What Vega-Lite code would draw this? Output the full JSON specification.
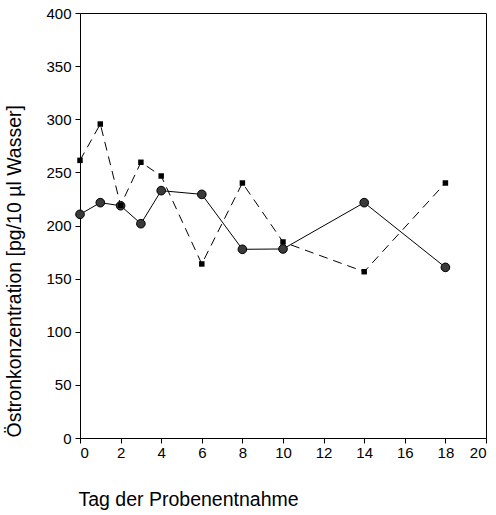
{
  "$schema": "https://vega.github.io/schema/vega-lite/v6.json",
  "width": 406,
  "height": 425,
  "autosize": {"type": "none"},
  "padding": {"left": 80, "top": 13, "right": 10, "bottom": 77},
  "background": "white",
  "config": {
    "font": "Liberation Sans",
    "view": {"stroke": "black", "strokeWidth": 1},
    "axis": {
      "grid": false,
      "domainColor": "black",
      "tickColor": "black",
      "tickSize": 5,
      "labelColor": "black",
      "titleColor": "black",
      "labelFont": "Liberation Sans",
      "titleFont": "Liberation Sans",
      "labelFontSize": 15,
      "titleFontSize": 19.5,
      "titleFontWeight": "normal"
    }
  },
  "data": {
    "values": [
      {"tag": 0, "wert": 210.5, "serie": "A"},
      {"tag": 1, "wert": 221.5, "serie": "A"},
      {"tag": 2, "wert": 218.6, "serie": "A"},
      {"tag": 3, "wert": 201.7, "serie": "A"},
      {"tag": 4, "wert": 232.8, "serie": "A"},
      {"tag": 6, "wert": 229.3, "serie": "A"},
      {"tag": 8, "wert": 177.6, "serie": "A"},
      {"tag": 10, "wert": 177.9, "serie": "A"},
      {"tag": 14, "wert": 221.5, "serie": "A"},
      {"tag": 18, "wert": 160.6, "serie": "A"},
      {"tag": 0, "wert": 261.3, "serie": "B"},
      {"tag": 1, "wert": 295.5, "serie": "B"},
      {"tag": 2, "wert": 219.0, "serie": "B"},
      {"tag": 3, "wert": 259.5, "serie": "B"},
      {"tag": 4, "wert": 246.6, "serie": "B"},
      {"tag": 6, "wert": 163.8, "serie": "B"},
      {"tag": 8, "wert": 240.0, "serie": "B"},
      {"tag": 10, "wert": 184.5, "serie": "B"},
      {"tag": 14, "wert": 156.5, "serie": "B"},
      {"tag": 18, "wert": 240.0, "serie": "B"}
    ]
  },
  "encoding": {
    "x": {
      "field": "tag",
      "type": "quantitative",
      "scale": {"domain": [0, 20], "nice": false, "zero": false},
      "axis": {
        "values": [0, 2, 4, 6, 8, 10, 12, 14, 16, 18, 20],
        "title": "Tag der Probenentnahme",
        "titleAnchor": "start",
        "titleAlign": "left",
        "titleBaseline": "top",
        "titleX": -2,
        "titleY": 52,
        "labelPadding": 2
      }
    },
    "y": {
      "field": "wert",
      "type": "quantitative",
      "scale": {"domain": [0, 400], "nice": false},
      "axis": {
        "values": [0, 50, 100, 150, 200, 250, 300, 350, 400],
        "title": "Östronkonzentration [pg/10 µl Wasser]",
        "titleAnchor": "start",
        "titleAlign": "left",
        "titleAngle": -90,
        "titleBaseline": "top",
        "titleX": -75,
        "titleY": 424,
        "labelPadding": 4
      }
    }
  },
  "layer": [
    {
      "transform": [{"filter": "datum.serie == 'B'"}],
      "mark": {"type": "line", "color": "black", "strokeWidth": 1, "strokeDash": [9, 6]}
    },
    {
      "transform": [{"filter": "datum.serie == 'A'"}],
      "mark": {"type": "line", "color": "black", "strokeWidth": 1}
    },
    {
      "transform": [{"filter": "datum.serie == 'A'"}],
      "mark": {"type": "point", "shape": "circle", "filled": true, "fill": "#3a3a3a", "stroke": "black", "strokeWidth": 1, "size": 75, "opacity": 1}
    },
    {
      "transform": [{"filter": "datum.serie == 'B'"}],
      "mark": {"type": "point", "shape": "square", "filled": true, "fill": "black", "size": 30, "opacity": 1}
    }
  ]
}
